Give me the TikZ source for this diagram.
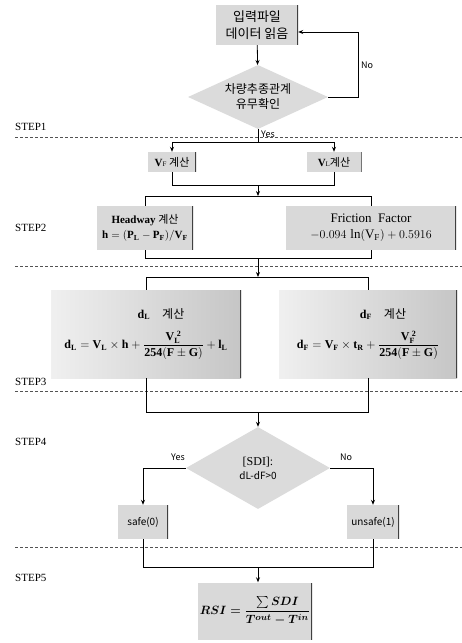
\documentclass[tikz,border=0pt]{standalone}
\usepackage{amsmath}
\usepackage{fontspec}
\setmainfont{Liberation Serif}
\newfontfamily\kr{Noto Sans CJK KR}
\usetikzlibrary{arrows.meta,positioning,shapes.geometric}

\begin{document}
\begin{tikzpicture}[x=1pt,y=-1pt,
    rimline/.style={path picture={\draw[black!75,line width=1.4pt]
        (path picture bounding box.north east) -- (path picture bounding box.south east);}},
    gbox/.style={fill=gray!30,rimline,inner sep=2pt,align=center},
    wbox/.style={left color=gray!12,right color=gray!45,rimline,inner sep=2pt,align=center},
    dbox/.style={diamond,fill=gray!28,aspect=2.1,inner sep=1pt,align=center},
    link/.style={draw,line width=0.8pt},
    arr/.style={link,-{Stealth[length=5pt,width=4pt]}},
    sep/.style={densely dashed,gray!65!black,line width=0.6pt},
    steplbl/.style={anchor=west,inner sep=0pt,font=\fontsize{11}{12}\selectfont},
    lbl/.style={inner sep=1pt,font=\kr\fontsize{9}{10}\selectfont},
  ]
    \useasboundingbox (0,0) rectangle (462,643);

    % step separators
    \draw[sep] (15,137) -- (462,137);
    \draw[sep] (15,266) -- (462,266);
    \draw[sep] (15,391) -- (462,391);
    \draw[sep] (15,547) -- (462,547);
    \node[steplbl] (st1) at (15,127) {STEP1};
    \node[steplbl] (st2) at (15,228) {STEP2};
    \node[steplbl] (st3) at (15,382) {STEP3};
    \node[steplbl] (st4) at (15,442) {STEP4};
    \node[steplbl] (st5) at (15,578) {STEP5};

    % STEP1
    \node[gbox,minimum width=82pt,minimum height=40pt,
          font=\kr\fontsize{13}{17}\selectfont] (read) at (257,25) {입력파일\\데이터 읽음};
    \node[dbox,minimum width=140pt,minimum height=64pt,
          font=\kr\fontsize{12}{15}\selectfont] (chk) at (258,97) {차량추종관계\\유무확인};
    \draw[arr] (read) -- (chk);
    \coordinate (noc) at (358,32);
    \draw[arr] (chk.east) -| (noc) -- (read.east |- noc);
    \node[lbl] (nolbl) at (367,65) {No};

    \coordinate (split1) at (258,142);
    \draw[link] (chk.south) -- (split1);
    \node[lbl,anchor=west] (yes1) at (260,134) {Yes};
    \node[gbox,minimum width=48pt,minimum height=20pt,
          font=\fontsize{11}{12}\selectfont] (vf) at (172,162) {\textbf{V}{\scriptsize F} {\kr 계산}};
    \node[gbox,minimum width=55pt,minimum height=20pt,
          font=\fontsize{11}{12}\selectfont] (vl) at (334,162) {\textbf{V}{\scriptsize L}{\kr 계산}};
    \draw[arr] (split1) -| (vf);
    \draw[arr] (split1) -| (vl);

    % STEP2
    \coordinate (m1) at (258,185);
    \coordinate (s2) at (258,196);
    \draw[link] (vf) |- (m1);
    \draw[link] (vl) |- (m1);
    \draw[arr] (m1) -- (s2);
    \node[gbox,minimum width=96pt,minimum height=44pt,
          font=\fontsize{11}{15}\selectfont] (hw) at (145,228) {\textbf{Headway} {\kr 계산}\\$\mathbf{h=(P_L-P_F)/V_F}$};
    \node[gbox,minimum width=170pt,minimum height=44pt,
          font=\fontsize{13}{16}\selectfont] (ff) at (371,228) {Friction\ \ Factor\\$-0.094\,\ln(\mathrm{V_F})+0.5916$};
    \draw[link] (s2) -| (hw);
    \draw[link] (s2) -| (ff);

    % STEP3
    \coordinate (m2) at (258,258);
    \coordinate (s3) at (258,277);
    \draw[link] (hw) |- (m2);
    \draw[link] (ff) |- (m2);
    \draw[arr] (m2) -- (s3);
    \node[wbox,minimum width=190pt,minimum height=88pt,
          font=\fontsize{12}{15}\selectfont] (dl) at (146,334) {\hspace*{30pt}$\mathbf{d_L}$\quad {\kr 계산}\\[10pt]$\mathbf{d_L=V_L\times h+\dfrac{V_L^{\;2}}{254(F\pm G)}+l_L}$};
    \node[wbox,minimum width=178pt,minimum height=88pt,
          font=\fontsize{12}{15}\selectfont] (df) at (368,334) {\hspace*{30pt}$\mathbf{d_F}$\quad {\kr 계산}\\[10pt]$\mathbf{d_F=V_F\times t_R+\dfrac{V_F^{\;2}}{254(F\pm G)}}$};
    \draw[link] (s3) -| (dl);
    \draw[link] (s3) -| (df);

    % STEP4
    \coordinate (m3) at (258,412);
    \draw[link] (dl) |- (m3);
    \draw[link] (df) |- (m3);
    \node[dbox,minimum width=144pt,minimum height=82pt,
          font=\kr\fontsize{10}{14}\selectfont] (sdi) at (258,468) {{\rmfamily\fontsize{12}{14}\selectfont [SDI]:}\\dL-dF>0};
    \draw[arr] (m3) -- (sdi);
    \node[gbox,minimum width=50pt,minimum height=34pt,
          font=\kr\fontsize{10}{12}\selectfont] (safe) at (143,522) {safe(0)};
    \node[gbox,minimum width=52pt,minimum height=34pt,
          font=\kr\fontsize{10}{12}\selectfont] (unsafe) at (373,522) {unsafe(1)};
    \draw[arr] (sdi.west) -| (safe);
    \draw[arr] (sdi.east) -| (unsafe);
    \node[lbl] (yes2) at (178,457) {Yes};
    \node[lbl] (no2) at (346,457) {No};

    % STEP5
    \coordinate (m4) at (258,567);
    \draw[link] (safe) |- (m4);
    \draw[link] (unsafe) |- (m4);
    \node[gbox,minimum width=105pt,minimum height=57pt,
          font=\fontsize{13}{15}\selectfont] (rsi) at (255,611) {$\boldsymbol{RSI=\dfrac{\sum SDI}{T^{out}-T^{in}}}$};
    \draw[arr] (m4) -- (m4 |- rsi.north);
\end{tikzpicture}
\end{document}
